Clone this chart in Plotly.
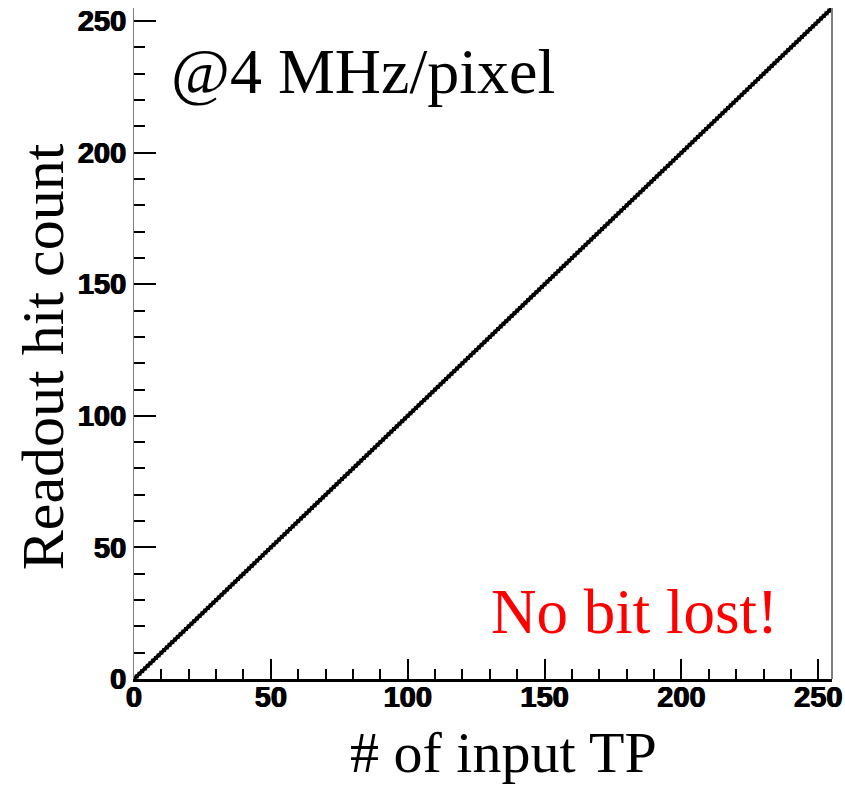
import plotly.graph_objects as go

# Number of test pulses injected into the pixel
input_tp = list(range(256))

# Hits counted at the readout for each injected pulse count
readout_hits = [
    0, 1, 2, 3, 4, 5, 6, 7, 8, 9, 10, 11, 12, 13, 14, 15,
    16, 17, 18, 19, 20, 21, 22, 23, 24, 25, 26, 27, 28, 29, 30, 31,
    32, 33, 34, 35, 36, 37, 38, 39, 40, 41, 42, 43, 44, 45, 46, 47,
    48, 49, 50, 51, 52, 53, 54, 55, 56, 57, 58, 59, 60, 61, 62, 63,
    64, 65, 66, 67, 68, 69, 70, 71, 72, 73, 74, 75, 76, 77, 78, 79,
    80, 81, 82, 83, 84, 85, 86, 87, 88, 89, 90, 91, 92, 93, 94, 95,
    96, 97, 98, 99, 100, 101, 102, 103, 104, 105, 106, 107, 108, 109, 110, 111,
    112, 113, 114, 115, 116, 117, 118, 119, 120, 121, 122, 123, 124, 125, 126, 127,
    128, 129, 130, 131, 132, 133, 134, 135, 136, 137, 138, 139, 140, 141, 142, 143,
    144, 145, 146, 147, 148, 149, 150, 151, 152, 153, 154, 155, 156, 157, 158, 159,
    160, 161, 162, 163, 164, 165, 166, 167, 168, 169, 170, 171, 172, 173, 174, 175,
    176, 177, 178, 179, 180, 181, 182, 183, 184, 185, 186, 187, 188, 189, 190, 191,
    192, 193, 194, 195, 196, 197, 198, 199, 200, 201, 202, 203, 204, 205, 206, 207,
    208, 209, 210, 211, 212, 213, 214, 215, 216, 217, 218, 219, 220, 221, 222, 223,
    224, 225, 226, 227, 228, 229, 230, 231, 232, 233, 234, 235, 236, 237, 238, 239,
    240, 241, 242, 243, 244, 245, 246, 247, 248, 249, 250, 251, 252, 253, 254, 255,
]

tick_vals = [0, 50, 100, 150, 200, 250]
tick_text = ["0", "50", "100", "150", "200", "250"]

serif = "Liberation Serif, Times New Roman, serif"
sans = "Liberation Sans, Arial, Helvetica, sans-serif"

tick_font = dict(family=sans, size=29, color="black", weight="bold",
                 shadow="0.6px 0 0 black, -0.6px 0 0 black")

fig = go.Figure()
fig.add_trace(go.Scatter(
    x=input_tp, y=readout_hits, mode="lines+markers",
    line=dict(color="black", width=3.5),
    marker=dict(color="black", size=4, symbol="square"),
    showlegend=False, hoverinfo="x+y",
))

fig.update_layout(
    width=845, height=787,
    margin=dict(l=134, r=13, t=8, b=108),
    paper_bgcolor="white", plot_bgcolor="white",
    font=dict(family=sans, color="black"),
    xaxis=dict(
        range=[0, 255], showgrid=False, zeroline=False, automargin=False,
        showline=True, linecolor="black", linewidth=3,
        ticks="inside", ticklen=20, tickwidth=2, tickcolor="black",
        tickvals=tick_vals, ticktext=tick_text, tickfont=tick_font,
        minor=dict(ticks="inside", ticklen=10, tickwidth=2, tickcolor="black",
                   dtick=10, tick0=0, showgrid=False),
        ticklabelstandoff=-10,
    ),
    yaxis=dict(
        range=[0, 255], showgrid=False, zeroline=False, automargin=False,
        showline=True, linecolor="#808080", linewidth=1,
        ticks="inside", ticklen=22, tickwidth=2, tickcolor="black",
        tickvals=tick_vals, ticktext=tick_text, tickfont=tick_font,
        minor=dict(ticks="inside", ticklen=11, tickwidth=2, tickcolor="black",
                   dtick=10, tick0=0, showgrid=False),
        ticklabelstandoff=1,
    ),
    shapes=[dict(type="line", xref="paper", yref="paper",
                 x0=1, x1=1, y0=0, y1=1,
                 line=dict(color="#808080", width=2))],
    annotations=[
        dict(text="Readout hit count", xref="paper", yref="paper",
             x=-0.13, y=0.48, textangle=-90, showarrow=False,
             xanchor="center", yanchor="middle",
             font=dict(family=serif, size=60, color="black")),
        dict(text="# of input TP", xref="paper", yref="paper",
             x=0.53, y=-0.11, showarrow=False,
             xanchor="center", yanchor="middle",
             font=dict(family=serif, size=58, color="black")),
        dict(text="@4 MHz/pixel", xref="paper", yref="paper",
             x=0.05, y=0.905, showarrow=False,
             xanchor="left", yanchor="middle",
             font=dict(family=serif, size=64, color="black")),
        dict(text="No bit lost!", xref="paper", yref="paper",
             x=0.925, y=0.10, showarrow=False,
             xanchor="right", yanchor="middle",
             font=dict(family=serif, size=63, color="red")),
    ],
)

fig.write_html("out.html")
